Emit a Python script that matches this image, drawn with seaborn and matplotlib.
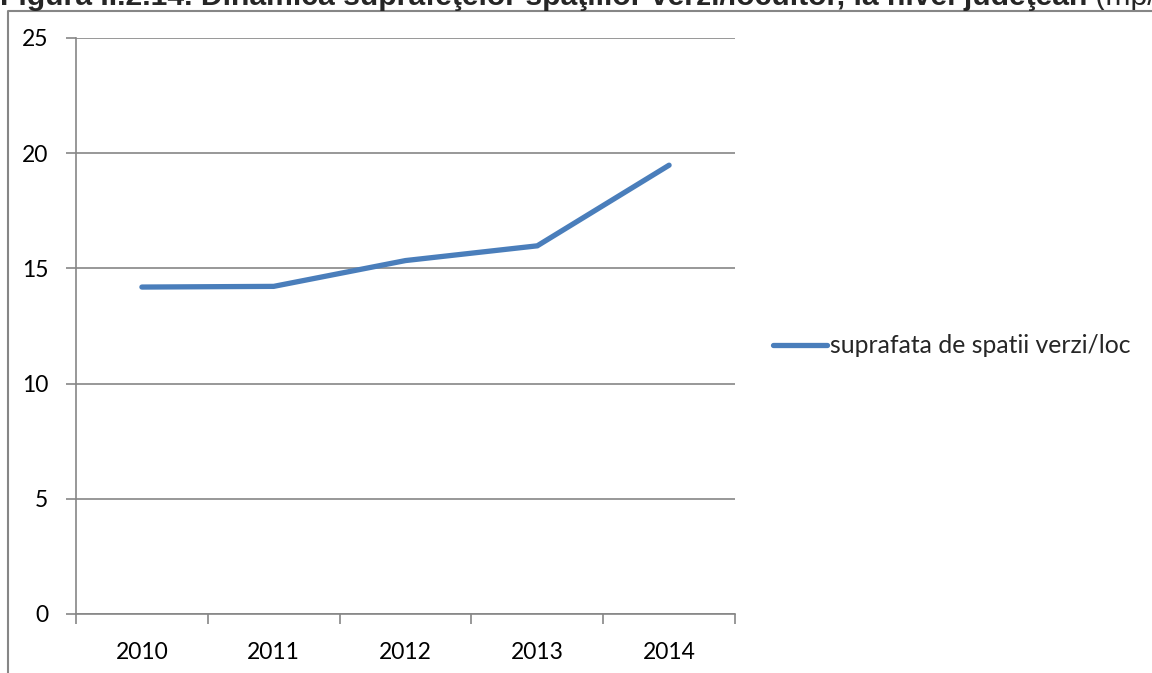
import matplotlib
matplotlib.use("Agg")
import matplotlib.pyplot as plt
from matplotlib.lines import Line2D
import pandas as pd
import seaborn as sns

YEARS = ["2010", "2011", "2012", "2013", "2014"]
GREEN_AREA = [14.19, 14.22, 15.34, 15.98, 19.48]
SERIES_NAME = "suprafata de spatii verzi/loc"
Y_TICKS = [0, 5, 10, 15, 20, 25]

TITLE_BOLD = "Figura II.2.14. Dinamica suprafeţelor spaţiilor verzi/locuitor, la nivel judeţean"
TITLE_NORMAL = " (mp/locuitor)"

GRAY = "#868686"
BLUE = "#4A7EBB"
W, H = 1152, 673

sns.set_theme(style="white")
plt.rcParams["font.family"] = ["Lato", "DejaVu Sans"]

df = pd.DataFrame({"year": YEARS, "value": GREEN_AREA})

fig = plt.figure(figsize=(W / 100, H / 100), dpi=100)
ax = fig.add_axes([76 / W, 1 - 614 / H, (735 - 76) / W, (614 - 38) / H])

sns.lineplot(data=df, x="year", y="value", ax=ax, color=BLUE, linewidth=3.8,
             solid_capstyle="round", solid_joinstyle="miter", label=SERIES_NAME)

ax.set_xlim(-0.5, len(YEARS) - 0.5)
ax.set_ylim(0, 25)
ax.set_yticks(Y_TICKS)
ax.set_xlabel("")
ax.set_ylabel("")

# category axis: labels centred, tick marks between categories
ax.set_xticks(range(len(YEARS)))
ax.set_xticklabels(YEARS)
ax.set_xticks([i - 0.5 for i in range(len(YEARS) + 1)], minor=True)
ax.tick_params(axis="x", which="major", length=0, pad=20, labelsize=16.5, labelcolor="black")
ax.tick_params(axis="x", which="minor", length=7, width=1.2, color=GRAY, direction="out")
ax.tick_params(axis="y", length=7, width=1.2, color=GRAY, direction="out", pad=13,
               labelsize=16.5, labelcolor="black")
ax.tick_params(bottom=True, left=True, which="both")

ax.grid(axis="y", color=GRAY, linewidth=1.2)
ax.set_axisbelow(True)
for side in ["top", "right"]:
    ax.spines[side].set_visible(False)
for side in ["left", "bottom"]:
    ax.spines[side].set_color(GRAY)
    ax.spines[side].set_linewidth(1.2)

ax.legend(loc="center left", bbox_to_anchor=(773 / W, 1 - 346 / H),
          bbox_transform=fig.transFigure, frameon=False, fontsize=17.8,
          handlelength=2.2, handletextpad=0.1, borderpad=0, borderaxespad=0)

# outer chart frame (cut off at right/bottom of the image)
fig.add_artist(Line2D([8 / W, 8 / W, 1.01], [-0.01, 1 - 11 / H, 1 - 11 / H],
                      transform=fig.transFigure, color=GRAY, linewidth=1.5))

# title, partly clipped at the top of the image as in the source
title_font = ["Liberation Sans", "DejaVu Sans"]
t = fig.text(0.0, 1 - 5 / H, TITLE_BOLD, ha="left", va="baseline", fontsize=21.7,
             fontweight="bold", family=title_font)
ax.annotate(TITLE_NORMAL, xy=(1, 0), xycoords=t, ha="left", va="bottom", fontsize=21.7,
            family=title_font, annotation_clip=False)

fig.savefig("out.png", dpi=100)
